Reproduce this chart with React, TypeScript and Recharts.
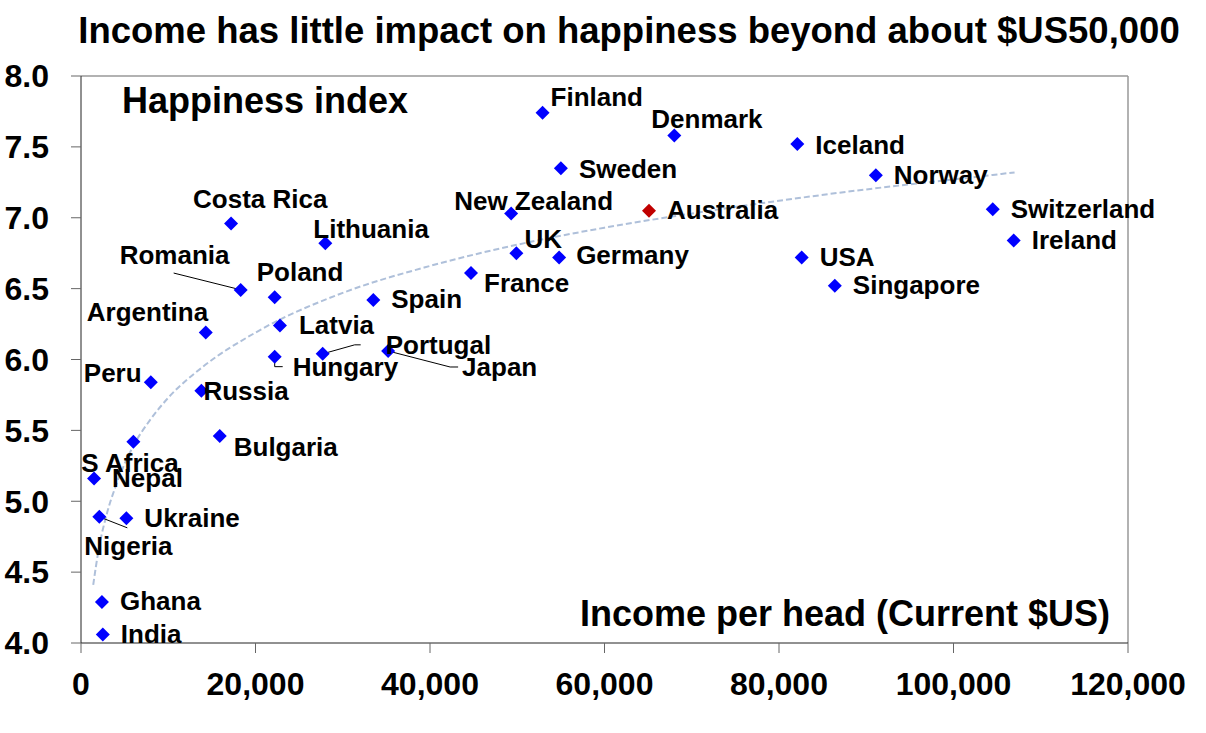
import React from 'react';
import { ScatterChart, Scatter, XAxis, YAxis, ReferenceLine } from 'recharts';

// country readings: income per head ($US) and happiness index
const COUNTRIES = [
  'Finland', 'Denmark', 'Iceland', 'Sweden', 'Norway', 'Australia', 'New Zealand',
  'Switzerland', 'Costa Rica', 'Ireland', 'Lithuania', 'UK', 'USA', 'Germany',
  'France', 'Singapore', 'Romania', 'Poland', 'Spain', 'Latvia', 'Argentina',
  'Japan', 'Portugal', 'Hungary', 'Peru', 'Russia', 'Bulgaria', 'S Africa',
  'Nepal', 'Nigeria', 'Ukraine', 'Ghana', 'India',
];
const INCOME = [
  52900, 68000, 82100, 55000, 91100, 65100, 49300,
  104500, 17200, 106900, 28000, 49900, 82600, 54800,
  44700, 86400, 18300, 22200, 33500, 22800, 14300,
  35200, 27700, 22200, 8000, 13800, 15900, 6000,
  1500, 2100, 5200, 2400, 2500,
];
const HAPPINESS = [
  7.74, 7.58, 7.52, 7.35, 7.30, 7.05, 7.03,
  7.06, 6.96, 6.84, 6.82, 6.75, 6.72, 6.72,
  6.61, 6.52, 6.49, 6.44, 6.42, 6.24, 6.19,
  6.06, 6.04, 6.02, 5.84, 5.78, 5.46, 5.42,
  5.16, 4.89, 4.88, 4.29, 4.06,
];

// dashed trend line
const TREND_INCOME = [1400, 2000, 3000, 4000, 6000, 8000, 10000, 14000, 20000, 30000, 40000, 50000, 60000, 70000, 80000, 90000, 100000, 107000];
const TREND_HAPPINESS = [4.41, 4.65, 4.92, 5.11, 5.39, 5.58, 5.73, 5.95, 6.19, 6.47, 6.66, 6.81, 6.93, 7.03, 7.12, 7.20, 7.27, 7.32];

const X_TICKS = [0, 20000, 40000, 60000, 80000, 100000, 120000];
const Y_TICKS = [4, 4.5, 5, 5.5, 6, 6.5, 7, 7.5, 8];

const FONT = '"Liberation Sans", Arial, Helvetica, sans-serif';
const BLUE = '#0000FF';
const RED = '#C00000';
const TREND_COLOR = '#AFC0DA';

type LabelPos = { dx: number; dy: number; leader?: number[][] };
const DEFAULT_POS: LabelPos = { dx: 18, dy: 8.5 };
const LABEL_POS: Record<string, LabelPos> = {
  'Costa Rica': { dx: -38, dy: -15 },
  Lithuania: { dx: -12, dy: -5 },
  Romania: { dx: -121, dy: -26, leader: [[-67, -17], [-3, -1]] },
  Poland: { dx: -18, dy: -16 },
  Argentina: { dx: -119, dy: -12 },
  Latvia: { dx: 19, dy: 9 },
  Hungary: { dx: 18, dy: 19, leader: [[0, 2], [0, 10], [8, 10]] },
  Portugal: { dx: 63, dy: 0, leader: [[0, 0], [32, -9], [38, -9]] },
  Japan: { dx: 74, dy: 25, leader: [[0, 0], [62, 16], [70, 16]] },
  Peru: { dx: -67, dy: 0 },
  Russia: { dx: 2, dy: 9 },
  Bulgaria: { dx: 14, dy: 20 },
  'S Africa': { dx: -52, dy: 30 },
  Nigeria: { dx: -15, dy: 38, leader: [[0, 0], [28, 11]] },
  Finland: { dx: 8, dy: -7 },
  Denmark: { dx: -23, dy: -8 },
  Sweden: { dx: 18, dy: 10 },
  'New Zealand': { dx: -57, dy: -3 },
  UK: { dx: 8, dy: -5 },
  Germany: { dx: 17, dy: 7 },
  France: { dx: 13, dy: 19 },
  Iceland: { dx: 18, dy: 10 },
};

const points = COUNTRIES.map((name, i) => ({ name, income: INCOME[i], happiness: HAPPINESS[i] }));
const trend = TREND_INCOME.map((income, i) => ({ income, happiness: TREND_HAPPINESS[i] }));

const CountryMarker = (props: any) => {
  const { cx, cy, payload } = props;
  if (cx == null || cy == null) return <g />;
  const pos = LABEL_POS[payload.name] ?? DEFAULT_POS;
  const r = 7;
  const fill = payload.name === 'Australia' ? RED : BLUE;
  return (
    <g>
      {pos.leader && (
        <polyline
          points={pos.leader.map(([x, y]) => `${cx + x},${cy + y}`).join(' ')}
          fill="none"
          stroke="#000"
          strokeWidth={1}
        />
      )}
      <polygon points={`${cx},${cy - r} ${cx + r},${cy} ${cx},${cy + r} ${cx - r},${cy}`} fill={fill} />
      <text x={cx + pos.dx} y={cy + pos.dy} fontFamily={FONT} fontWeight="bold" fontSize={26} fill="#000">
        {payload.name}
      </text>
    </g>
  );
};

const App: React.FC = () => {
  return (
    <div style={{ position: 'absolute', left: 0, top: 0, width: 1206, height: 733, background: '#fff' }}>
      <ScatterChart width={1206} height={733} margin={{ top: 76, right: 78, bottom: 0, left: 0 }}>
        <XAxis
          type="number"
          dataKey="income"
          domain={[0, 120000]}
          ticks={X_TICKS}
          interval={0}
          height={90}
          tickSize={10}
          tickMargin={19}
          tickFormatter={(v: number) => v.toLocaleString('en-US')}
          axisLine={{ stroke: '#222' }}
          tickLine={{ stroke: '#666' }}
          tick={{ fontSize: 32, fontWeight: 'bold', fill: '#000', fontFamily: FONT }}
        />
        <YAxis
          type="number"
          dataKey="happiness"
          domain={[4, 8]}
          ticks={Y_TICKS}
          interval={0}
          width={81}
          tickSize={10}
          tickMargin={22}
          tickFormatter={(v: number) => v.toFixed(1)}
          axisLine={{ stroke: '#222' }}
          tickLine={{ stroke: '#666' }}
          tick={{ fontSize: 32, fontWeight: 'bold', fill: '#000', fontFamily: FONT }}
        />
        <ReferenceLine y={8} stroke="#999" strokeWidth={1.5} />
        <ReferenceLine x={120000} stroke="#999" strokeWidth={1.5} />
        <Scatter
          data={trend}
          line={{ stroke: TREND_COLOR, strokeWidth: 2, strokeDasharray: '6 3' }}
          lineJointType="monotoneX"
          shape={() => <g />}
          legendType="none"
          isAnimationActive={false}
        />
        <Scatter data={points} shape={CountryMarker} isAnimationActive={false} />
      </ScatterChart>
      <svg
        width={1206}
        height={733}
        style={{ position: 'absolute', left: 0, top: 0, pointerEvents: 'none' }}
      >
        <text x={629} y={43} textAnchor="middle" fontFamily={FONT} fontWeight="bold" fontSize={36.5} fill="#000">
          Income has little impact on happiness beyond about $US50,000
        </text>
        <text x={122} y={113} fontFamily={FONT} fontWeight="bold" fontSize={36} fill="#000">
          Happiness index
        </text>
        <text x={1110} y={626} textAnchor="end" fontFamily={FONT} fontWeight="bold" fontSize={36} fill="#000">
          Income per head (Current $US)
        </text>
      </svg>
    </div>
  );
};

export default App;
